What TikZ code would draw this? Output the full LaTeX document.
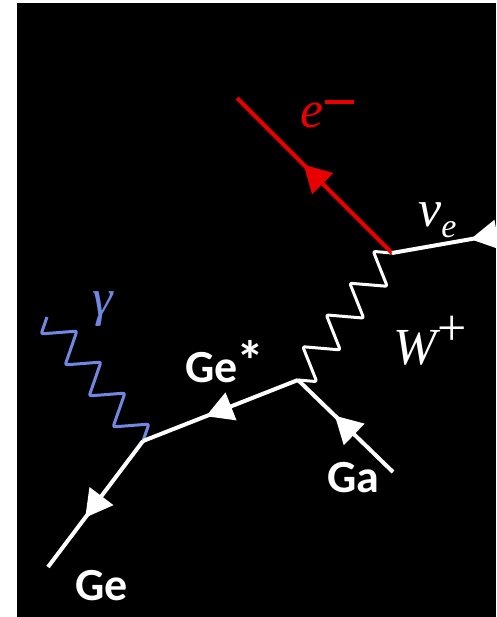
\documentclass[tikz,border=0pt]{standalone}
\usepackage{fontspec}
\newfontfamily\labelfont{Carlito}
\newfontfamily\symbfont{Liberation Serif}
\usetikzlibrary{arrows.meta, decorations.markings}
\definecolor{electronred}{RGB}{232,0,0}
\definecolor{photonblue}{RGB}{112,136,226}
\newcommand{\lowidx}[1]{\raisebox{-0.22em}{\fontsize{34}{34}\selectfont #1}}

\begin{document}
\begin{tikzpicture}[
    x=1pt, y=-1pt,
    fermion/.style 2 args={color=#1, line width=4pt, postaction={decorate,
        decoration={markings, mark=at position #2 with {\arrow{Triangle[length=27pt, width=29pt]}}}}},
    boson/.style={color=#1, line width=3pt, line join=round, rounded corners=2pt},
    lbl/.style={text=white, font=\labelfont\bfseries\fontsize{46}{50}\selectfont, inner sep=0pt, anchor=base west},
    mlbl/.style={text=white, font=\symbfont\itshape\fontsize{52}{56}\selectfont, inner sep=0pt, anchor=base west},
]
    \useasboundingbox (0,0) rectangle (496,617);
    \fill[white] (0,0) rectangle (496,617);
    \fill[black] (17,3) rectangle (496,617);

    % vertices and free ends
    \coordinate (wtop) at (392,253);
    \coordinate (wbot) at (298,380);
    \coordinate (gvtx) at (143,441);
    \coordinate (eout) at (237,98);
    \coordinate (nuin) at (500,234);
    \coordinate (gain) at (393,472);
    \coordinate (geout) at (48,567);
    \coordinate (gout) at (47,317);

    % bosons
    \draw[boson=white] (wtop) -- (373.3,251.4) -- (387.2,286.3) -- (349.8,283.2) -- (363.7,318.1)
        -- (326.3,314.9) -- (340.2,349.9) -- (302.8,346.7) -- (316.7,381.6) -- (wbot);
    \draw[boson=photonblue] (gvtx) -- (148.9,424.1) -- (113.1,426.9) -- (124.9,393.1) -- (89.2,395.9)
        -- (100.9,362.1) -- (65.2,364.9) -- (76.9,331.1) -- (41.2,333.9) -- (gout);

    % fermion lines
    \draw[fermion={electronred}{125pt}] (wtop) -- (eout);
    \draw[fermion={white}{30pt}] (nuin) -- (wtop);
    \draw[fermion={white}{81pt}] (gain) -- (wbot);
    \draw[fermion={white}{99pt}] (wbot) -- (gvtx);
    \draw[fermion={white}{96pt}] (gvtx) -- (geout);

    % labels
    \node[mlbl, text=electronred] (elabel) at (300,128) {e\kern2pt\raisebox{24pt}{\rule{29pt}{3.5pt}}};
    \node[mlbl] (nulabel) at (418,226) {ν\lowidx{e}};
    \node[mlbl] (wlabel) at (393,364) {W\kern1pt\raisebox{19pt}{\upshape +}};
    \node[mlbl, text=photonblue] (glabel) at (92,315) {γ};
    \node[lbl] (gestar) at (185,382) {Ge\kern-1pt\raisebox{2pt}{\fontsize{56}{56}\selectfont *}};
    \node[lbl] (galabel) at (327,492) {Ga};
    \node[lbl] (gelabel) at (75,600) {Ge};
\end{tikzpicture}
\end{document}
